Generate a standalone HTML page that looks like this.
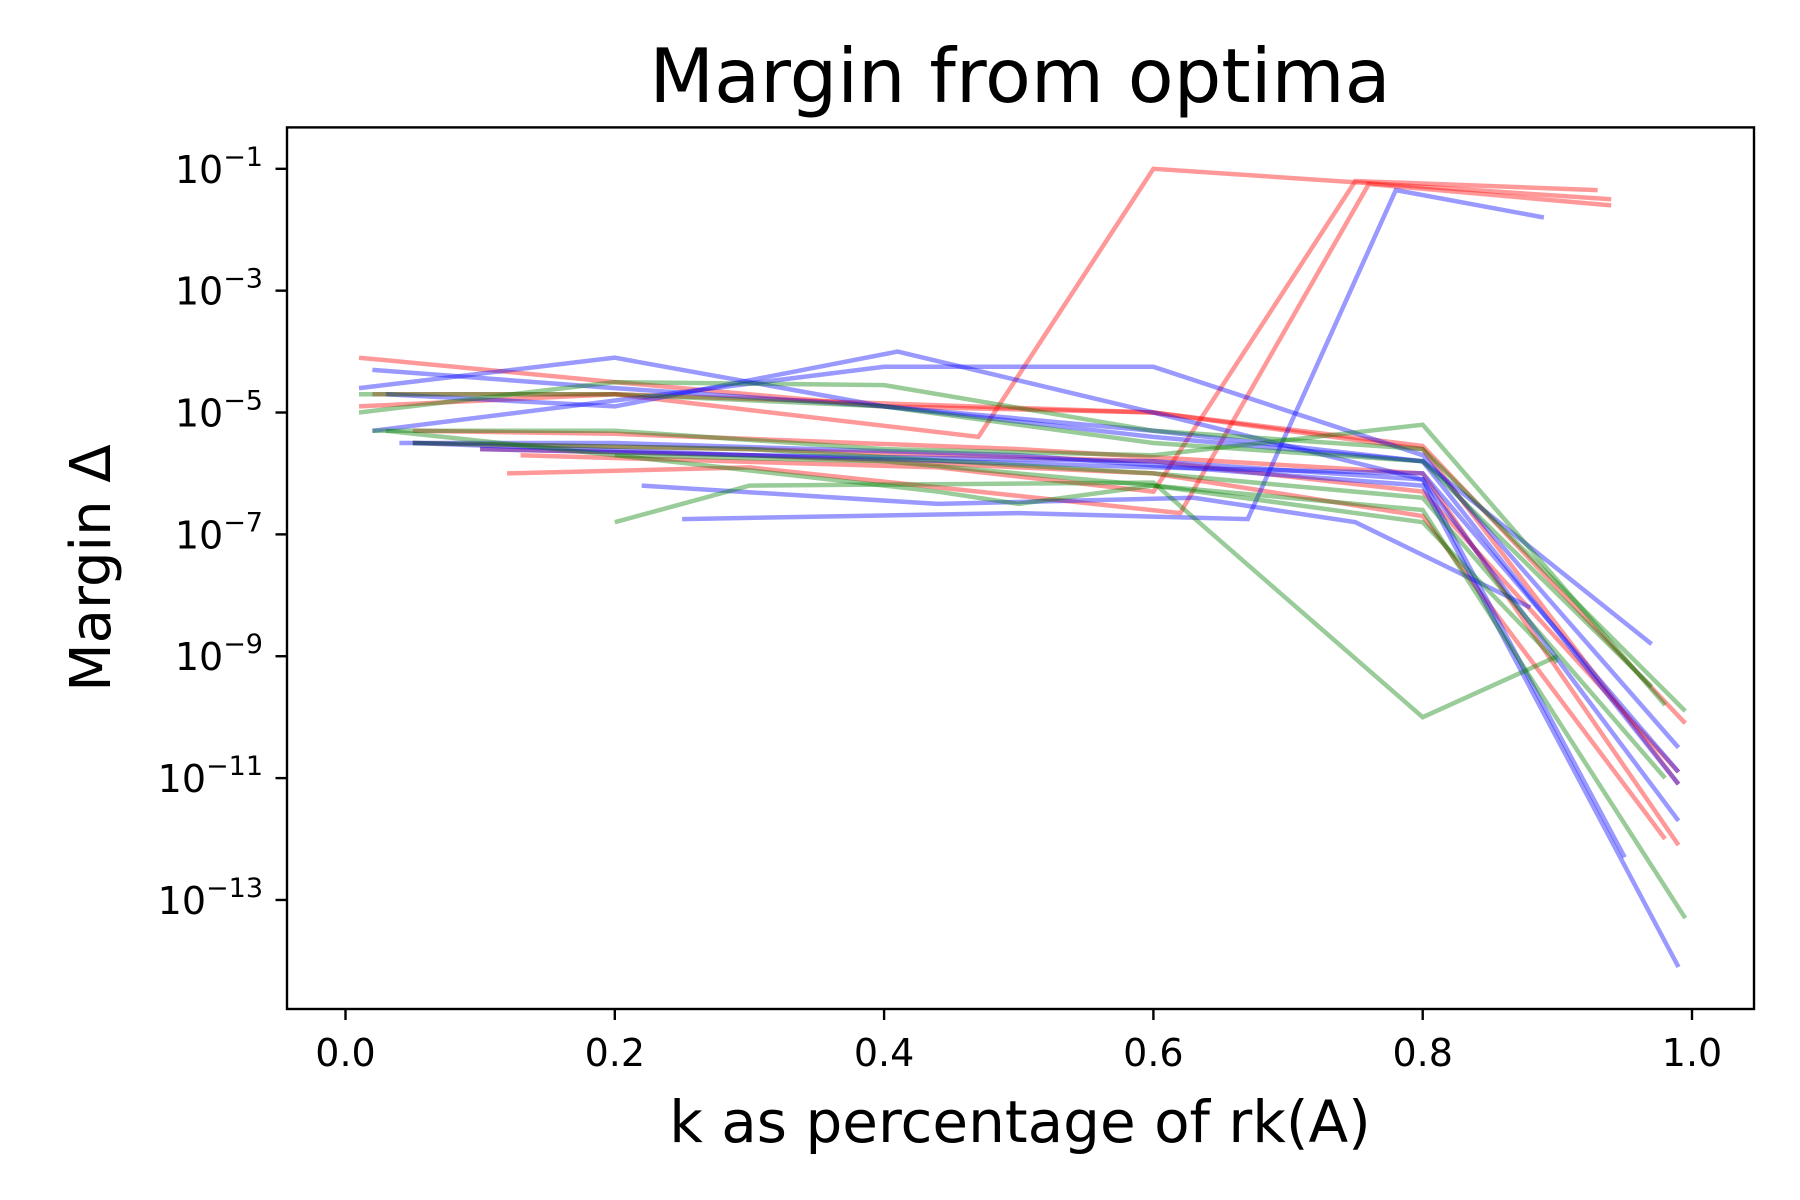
<!DOCTYPE html>
<html><head><meta charset="utf-8"><style>
html,body{margin:0;padding:0;background:#fff;}
svg{display:block;font-family:"DejaVu Sans","Liberation Sans",sans-serif;}
</style></head><body>
<svg id="chart" width="1800" height="1200" viewBox="0 0 1800 1200">
<rect width="1800" height="1200" fill="#fff"/>
<text x="1020" y="102" font-size="75" text-anchor="middle">Margin from optima</text>
<g id="plot"></g>
<rect x="287" y="127.4" width="1467" height="881.6" fill="none" stroke="#000" stroke-width="2.4"/>
<g id="xt"></g>
<g id="yt"></g>
<text x="1020" y="1142" font-size="58" text-anchor="middle">k as percentage of rk(A)</text>
<text transform="translate(110,568) rotate(-90)" font-size="56" text-anchor="middle">Margin Δ</text>
</svg>
<script>
const xTicks=[0,0.2,0.4,0.6,0.8,1.0];
const xTickLabels=["0.0","0.2","0.4","0.6","0.8","1.0"];
const yTicks=[-1,-3,-5,-7,-9,-11,-13];
const seriesColors=["red","red","red","red","red","red","red","red","blue","blue","blue","blue","blue","blue","blue","blue","blue","green","green","green","green","green","green","green"];
const seriesX=[
[0.01,0.2,0.4,0.6,0.8,0.99],[0.01,0.2,0.47,0.6,0.94],[0.12,0.3,0.62,0.76,0.94],[0.13,0.44,0.6,0.75,0.93],
[0.05,0.3,0.6,0.8,0.99],[0.02,0.2,0.4,0.6,0.8,0.995],[0.1,0.3,0.6,0.8,0.98],[0.05,0.2,0.5,0.8,0.99],
[0.02,0.2,0.4,0.6,0.8,0.99],[0.01,0.2,0.4,0.6,0.8,0.97],[0.03,0.2,0.41,0.6,0.8,0.99],[0.02,0.4,0.6,0.8,0.99],
[0.25,0.5,0.67,0.78,0.89],[0.22,0.44,0.63,0.75,0.88],[0.05,0.3,0.6,0.8,0.95],[0.1,0.3,0.6,0.8,0.99],
[0.04,0.2,0.5,0.8,0.99],[0.01,0.2,0.4,0.6,0.8,0.995],[0.02,0.2,0.4,0.6,0.8,0.98],[0.2,0.3,0.6,0.8,0.9],
[0.03,0.2,0.4,0.6,0.8,0.995],[0.05,0.3,0.6,0.8,0.98],[0.01,0.2,0.4,0.6,0.8,0.97],[0.2,0.44,0.5,0.6,0.8,0.9]];
const seriesLog=[
[-4.1,-4.5,-4.9,-5.0,-5.6,-11.1],[-4.9,-4.7,-5.4,-1.0,-1.5],[-6.0,-5.9,-6.65,-1.25,-1.6],[-5.7,-5.9,-6.3,-1.2,-1.35],
[-5.5,-5.6,-5.8,-6.3,-10.9],[-4.7,-4.7,-4.85,-5.0,-5.55,-10.1],[-5.6,-5.7,-6.0,-6.7,-12.0],[-5.3,-5.35,-5.6,-6.0,-12.1],
[-4.3,-4.6,-4.9,-5.3,-5.8,-11.1],[-4.6,-4.1,-4.9,-5.4,-5.8,-8.8],[-4.7,-4.9,-4.0,-5.0,-6.1,-11.7],[-5.3,-4.25,-4.25,-5.7,-10.5],
[-6.75,-6.65,-6.75,-1.35,-1.8],[-6.2,-6.5,-6.4,-6.8,-8.2],[-5.5,-5.7,-5.8,-6.1,-12.3],[-5.6,-5.7,-5.9,-6.0,-10.9],
[-5.5,-5.5,-5.7,-6.2,-14.1],[-5.0,-4.5,-4.55,-5.3,-5.6,-9.9],[-5.3,-5.3,-5.6,-5.7,-5.2,-9.8],[-6.8,-6.2,-6.15,-10.0,-9.0],
[-5.3,-5.7,-5.8,-6.2,-6.6,-13.3],[-5.5,-5.6,-6.0,-6.4,-11.0],[-4.7,-4.7,-4.9,-5.5,-5.8,-9.5],[-5.7,-6.3,-6.5,-6.2,-6.8,-9.1]];

const NS="http://www.w3.org/2000/svg";
function xs(v){return 345.5+v*1346.5;}
function ys(l){return 168.8+(-1-l)*60.93;}
const colorMap={red:"#ff0000",blue:"#0000ff",green:"#008000"};
const plot=document.getElementById("plot");
seriesX.forEach((xa,i)=>{
  const p=document.createElementNS(NS,"polyline");
  p.setAttribute("points",xa.map((x,j)=>xs(x).toFixed(1)+","+ys(seriesLog[i][j]).toFixed(1)).join(" "));
  p.setAttribute("fill","none");
  p.setAttribute("stroke",colorMap[seriesColors[i]]);
  p.setAttribute("stroke-opacity","0.4");
  p.setAttribute("stroke-width","4.5");
  
  
  plot.appendChild(p);
});
const xt=document.getElementById("xt");
xTicks.forEach((v,i)=>{
  const l=document.createElementNS(NS,"line");
  l.setAttribute("x1",xs(v));l.setAttribute("x2",xs(v));l.setAttribute("y1",1009);l.setAttribute("y2",1020);
  l.setAttribute("stroke","#000");l.setAttribute("stroke-width","2.4");
  
  
  xt.appendChild(l);
  const t=document.createElementNS(NS,"text");
  t.setAttribute("x",xs(v));t.setAttribute("y",1066);t.setAttribute("font-size","38");t.setAttribute("text-anchor","middle");
  t.textContent=xTickLabels[i];
  
  
  xt.appendChild(t);
});
const yt=document.getElementById("yt");
yTicks.forEach(v=>{
  const l=document.createElementNS(NS,"line");
  l.setAttribute("x1",275.5);l.setAttribute("x2",287);l.setAttribute("y1",ys(v));l.setAttribute("y2",ys(v));
  l.setAttribute("stroke","#000");l.setAttribute("stroke-width","2.4");
  
  
  yt.appendChild(l);
  const t=document.createElementNS(NS,"text");
  t.setAttribute("x",263);t.setAttribute("y",ys(v)+14);t.setAttribute("font-size","38");t.setAttribute("text-anchor","end");
  const a=document.createElementNS(NS,"tspan");a.textContent="10";
  const b=document.createElementNS(NS,"tspan");b.textContent="−"+Math.abs(v);
  b.setAttribute("dy","-17");b.setAttribute("font-size","27");
  t.appendChild(a);t.appendChild(b);
  
  
  yt.appendChild(t);
});
</script>
</body></html>
